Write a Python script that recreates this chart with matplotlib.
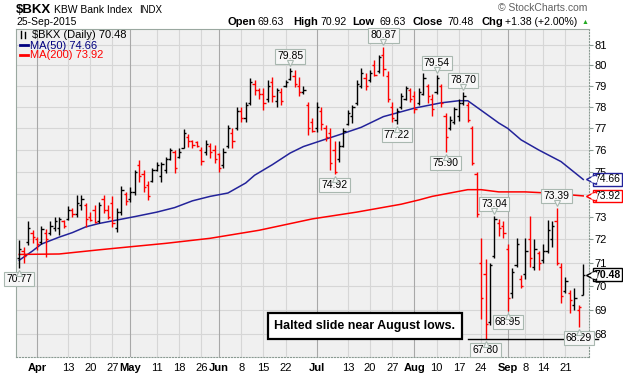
import numpy as np
import matplotlib
matplotlib.use("Agg")
import matplotlib.pyplot as plt
from matplotlib.lines import Line2D
from matplotlib.transforms import offset_copy

plt.rcParams['font.family'] = ['Liberation Sans', 'DejaVu Sans']

# $BKX daily bars, 26-Mar-2015 .. 25-Sep-2015
opens = [71.2, 71.5, 71.9, 72.3, 72.0, 71.9, 72.3, 72.3, 72.5, 72.5,
         72.8, 72.9, 73.3, 73.1, 73.5, 73.5, 73.0, 73.3, 72.8, 73.8,
         73.3, 73.6, 72.5, 73.2, 74.0, 73.8, 74.1, 75.3, 74.9, 74.4,
         74.6, 75.1, 74.8, 75.1, 75.6, 75.9, 75.7, 76.1, 76.6, 76.4,
         76.35, 76.0, 75.9, 76.2, 76.0, 75.8, 75.3, 76.2, 76.8, 77.0,
         77.8, 77.5, 78.2, 79.1, 78.8, 78.6, 78.4, 79.2, 78.3, 78.7,
         79.0, 79.35, 79.5, 79.0, 78.7, 78.1, 77.3, 77.0, 77.8, 77.0,
         76.8, 76.0, 75.6, 76.2, 77.2, 77.6, 78.2, 79.0, 79.4, 79.3,
         80.0, 79.7, 80.5, 79.5, 78.0, 77.4, 78.0, 78.4, 78.8, 78.5,
         78.2, 78.6, 79.0, 78.4, 78.7, 79.0, 77.6, 77.0, 77.3, 77.6,
         78.2, 78.1, 77.0, 74.9, 71.0, 70.5, 68.5, 71.3, 72.7, 72.6,
         71.6, 69.7, 70.9, 70.3, 70.5, 72.0, 70.8, 71.4, 71.1, 71.5,
         72.0, 72.8, 70.8, 69.8, 69.7, 69.2, 69.0, 69.63]
highs = [71.98, 71.66, 72.8, 72.41, 72.1, 72.6, 72.45, 72.8, 73.0, 73.0,
         72.85, 73.45, 73.4, 73.96, 73.96, 73.6, 73.2, 73.5, 73.65, 73.96,
         73.5, 73.9, 73.37, 74.36, 74.1, 74.3, 75.09, 75.55, 75.09, 74.6,
         75.16, 75.47, 75.45, 75.7, 76.08, 76.0, 76.08, 76.97, 76.75, 76.47,
         76.4, 76.16, 76.47, 76.31, 76.24, 75.86, 76.08, 77.17, 77.0, 78.0,
         78.0, 78.25, 79.4, 79.3, 78.9, 78.9, 79.3, 79.45, 78.9, 78.9,
         79.3, 79.85, 79.77, 79.45, 79.0, 78.25, 77.5, 78.25, 78.0, 77.17,
         77.0, 76.4, 76.4, 77.0, 77.87, 78.1, 79.3, 79.85, 79.6, 79.77,
         80.26, 80.5, 80.87, 79.7, 78.25, 77.95, 78.65, 79.0, 78.9, 78.74,
         78.9, 79.6, 79.1, 78.6, 79.54, 79.1, 77.7, 77.6, 78.0, 78.4,
         78.7, 78.25, 77.1, 75.0, 72.05, 71.16, 70.97, 73.04, 72.9, 72.8,
         71.8, 70.75, 72.05, 70.45, 72.05, 73.04, 72.0, 71.5, 71.8, 72.85,
         72.8, 73.39, 71.0, 70.4, 69.83, 69.9, 69.2, 70.92]
lows = [70.77, 70.98, 71.77, 71.83, 71.54, 71.8, 71.25, 72.2, 72.35, 72.2,
        72.5, 72.85, 73.0, 73.0, 73.3, 72.55, 72.8, 72.7, 72.7, 73.15,
        72.9, 72.55, 72.32, 73.07, 73.5, 73.65, 73.96, 74.56, 74.1, 73.74,
        74.56, 75.04, 74.56, 74.96, 75.55, 74.95, 75.63, 76.08, 76.16, 76.08,
        76.16, 75.32, 75.78, 75.63, 75.4, 75.0, 75.16, 76.08, 76.08, 76.93,
        77.32, 77.32, 78.1, 78.55, 78.4, 77.87, 78.25, 78.25, 78.0, 78.1,
        78.95, 79.3, 78.95, 78.5, 78.6, 76.7, 76.85, 76.85, 76.93, 76.4,
        75.1, 74.92, 75.47, 76.16, 77.17, 77.26, 78.1, 78.9, 78.8, 79.2,
        79.5, 79.6, 79.5, 78.25, 77.3, 77.22, 77.9, 78.34, 78.25, 77.7,
        78.1, 78.55, 78.2, 77.6, 78.6, 78.0, 75.9, 76.93, 77.2, 77.35,
        78.1, 77.3, 75.3, 73.0, 68.6, 67.8, 68.37, 71.2, 72.15, 72.05,
        68.95, 69.5, 70.8, 69.9, 70.3, 70.8, 70.68, 70.7, 71.0, 71.4,
        71.66, 70.9, 69.3, 69.7, 68.85, 69.0, 68.29, 69.63]
closes = [71.6, 71.3, 72.5, 72.1, 71.8, 72.45, 72.0, 72.6, 72.8, 72.9,
          72.6, 73.3, 73.1, 73.6, 73.8, 72.9, 72.85, 72.75, 73.5, 73.3,
          73.0, 72.7, 73.2, 74.2, 73.7, 74.1, 75.0, 74.8, 74.3, 73.9,
          75.1, 75.3, 75.35, 75.6, 76.0, 75.2, 75.9, 76.8, 76.4, 76.25,
          76.2, 75.5, 76.3, 75.9, 75.6, 75.2, 75.9, 77.0, 76.4, 77.8,
          77.5, 78.1, 79.2, 78.8, 78.6, 78.2, 79.0, 78.5, 78.8, 78.3,
          79.2, 79.7, 79.1, 78.7, 78.8, 77.0, 76.9, 78.0, 77.2, 76.6,
          75.4, 75.0, 76.2, 76.9, 77.7, 78.0, 79.1, 79.6, 79.0, 79.6,
          79.55, 80.4, 79.8, 78.4, 77.5, 77.8, 78.5, 78.9, 78.4, 77.9,
          78.7, 79.4, 78.5, 77.9, 79.4, 78.2, 76.6, 77.4, 77.9, 78.2,
          78.5, 77.4, 75.4, 73.1, 69.5, 68.4, 70.9, 72.9, 72.5, 72.3,
          69.5, 70.6, 71.8, 70.0, 71.5, 71.2, 71.6, 71.0, 71.5, 72.4,
          72.6, 71.0, 69.6, 70.2, 69.4, 69.5, 69.1, 70.48]

# moving averages read at sample bars
ma50_at = [0, 3, 5, 9, 12, 15, 18, 22, 26, 31, 35, 39, 43, 47, 51, 53, 57, 61,
           64, 69, 72, 77, 82, 89, 95, 99, 101, 103, 106, 108, 110, 113, 117,
           122, 127]
ma50 = [71.1, 71.5, 71.8, 72.1, 72.3, 72.55, 72.7, 72.85, 73.0, 73.2, 73.4,
        73.7, 73.9, 74.05, 74.5, 74.85, 75.33, 75.86, 76.16, 76.5, 76.7,
        77.05, 77.55, 77.95, 78.2, 78.3, 78.3, 78.0, 77.55, 77.25, 77.0,
        76.47, 76.0, 75.47, 74.66]
ma200_at = [0, 9, 18, 26, 33, 43, 54, 66, 76, 86, 90, 93, 101, 104, 108, 114,
            119, 127]
ma200 = [71.35, 71.37, 71.55, 71.7, 71.83, 72.05, 72.4, 72.9, 73.2, 73.55,
         73.74, 73.9, 74.2, 74.2, 74.1, 74.1, 74.05, 73.92]

xlabels_at = [4, 11, 16, 21, 25, 31, 36, 41, 45, 50, 55, 60, 67, 74, 79, 84,
              89, 94, 99, 104, 110, 114, 118, 123]
xlabels = ['Apr', '13', '20', '27', 'May', '11', '18', '26', 'Jun', '8', '15',
           '22', 'Jul', '13', '20', '27', 'Aug', '10', '17', '24', 'Sep', '8',
           '14', '21']
months = ['Apr', 'May', 'Jun', 'Jul', 'Aug', 'Sep']
hi_marks = [61, 82, 94, 100, 107, 121]
lo_marks = [0, 71, 85, 96, 105, 110, 126]

W, H = 623, 373
fig = plt.figure(figsize=(W / 100, H / 100), dpi=100)
ax = fig.add_axes([16 / W, 1 - 357 / H, 573 / W, 328 / H])
ax.set_facecolor('#f0f0f0')
px = lambda x: x / W
py = lambda y: 1 - y / H

n = len(closes)
idx = np.arange(n)
prev = np.r_[opens[0], closes[:-1]]
cols = np.where(np.array(closes) >= prev, 'black', 'red')

ax.vlines(idx, lows, highs, colors=cols, lw=1, zorder=3)
ax.hlines(opens, idx - 0.5, idx, colors=cols, lw=1, zorder=3)
ax.hlines(closes, idx, idx + 0.5, colors=cols, lw=1, zorder=3)

ax.plot(ma50_at, ma50, color='#23239a', lw=1.1, zorder=2)
ax.plot(ma200_at, ma200, color='#ff0000', lw=1.1, zorder=2)

ax.set_yscale('log')
ax.set_ylim(67.06, 81.77)
ax.set_xlim(-0.72, 128.3)
yt = list(range(68, 82))
ax.set_yticks(yt)
# the 74 label sits under the MA(200) tag on the original
ax.set_yticklabels(['' if v == 74 else str(v) for v in yt])
ax.yaxis.set_minor_locator(plt.NullLocator())
ax.yaxis.tick_right()
ax.tick_params(axis='y', length=3, width=0.8, color='#8a9a92', labelsize=8, pad=1)
ax.set_xticks(xlabels_at)
ax.set_xticklabels(xlabels)
for t in ax.get_xticklabels():
    if t.get_text() in months:
        t.set_fontweight('bold')
ax.tick_params(axis='x', length=0, labelsize=8, pad=4)
ax.set_axisbelow(True)
ax.grid(axis='y', color='#d6d6d6', lw=0.8)
for i, lab in zip(xlabels_at, xlabels):
    ax.axvline(i, color='#a8a8a8' if lab in months else '#d6d6d6', lw=0.8, zorder=1)
for s in ['left', 'top']:
    ax.spines[s].set_color('#9aa8a0')
    ax.spines[s].set_linewidth(0.8)
for s in ['right', 'bottom']:
    ax.spines[s].set_color('#8a9a92')
    ax.spines[s].set_linestyle(':')
    ax.spines[s].set_linewidth(0.8)

# high / low tags
def tag(i, val, up):
    off = 8.5 if up else -8
    ax.annotate(f'{val:.2f}', xy=(i, val), xytext=(0, off), textcoords='offset points',
                ha='center', va='center', fontsize=7.5, annotation_clip=False,
                bbox=dict(boxstyle='square,pad=0.2', fc='#f7f7f7', ec='#a9b8b0', lw=0.8),
                zorder=6)
    tr = offset_copy(ax.transData, fig, x=0, y=5 if up else -5, units='dots')
    ax.plot(i, val, marker='v' if up else '^', ms=4, mfc='#f7f7f7', mec='#a9b8b0',
            mew=0.8, transform=tr, zorder=7, clip_on=False)

for i in hi_marks:
    tag(i, highs[i], True)
for i in lo_marks:
    tag(i, lows[i], False)

# right side value tags
ytr = ax.get_yaxis_transform()
for val, col, wt in [(ma50[-1], '#23239a', 'normal'), (ma200[-1], 'red', 'normal'),
                     (closes[-1], 'black', 'bold')]:
    ax.annotate(f'{val:.2f}', xy=(1, val), xycoords=ytr,
                xytext=(4, 0), textcoords='offset points', ha='left', va='center',
                fontsize=7.5, fontweight=wt, annotation_clip=False, zorder=10,
                bbox=dict(boxstyle='square,pad=0.12', fc='white', ec=col, lw=1))
    tr = offset_copy(ytr, fig, x=1.5, y=0, units='dots')
    ax.plot(1, val, marker='<', ms=6.5, mfc='white', mec=col, mew=1,
            transform=tr, zorder=11, clip_on=False)
    tr2 = offset_copy(ytr, fig, x=4.5, y=0, units='dots')
    ax.plot(1, val, marker='s', ms=4.6, mfc='white', mec='none',
            transform=tr2, zorder=12, clip_on=False)

# comment box and line at the August low
fig.text(px(365), py(326), 'Halted slide near August lows.', ha='center', va='center',
         fontsize=9, fontweight='bold',
         bbox=dict(boxstyle='square,pad=0.55', fc='white', ec='black', lw=1.6), zorder=8)
ax.plot([101.1, 130.4], [lows[105], lows[105]], color='black', lw=1, clip_on=False, zorder=5)

# header
fig.text(px(16), py(13), '$BKX', fontsize=9.5, fontweight='bold', parse_math=False)
fig.text(px(54), py(13), 'KBW Bank Index', fontsize=7.5)
fig.text(px(139), py(13), 'INDX', fontsize=7)
fig.text(px(16), py(25), '25-Sep-2015', fontsize=7.5)
fig.text(px(587), py(11), '\u00a9 StockCharts.com', fontsize=7.5, color='#606060', ha='right')
chg = closes[-1] - closes[-2]
parts = [('Open', 228, 'bold'), (f'{opens[-1]:.2f}', 258, 'normal'),
         ('High', 293, 'bold'), (f'{highs[-1]:.2f}', 320, 'normal'),
         ('Low', 352, 'bold'), (f'{lows[-1]:.2f}', 380, 'normal'),
         ('Close', 413, 'bold'), (f'{closes[-1]:.2f}', 447, 'normal'),
         ('Chg', 481, 'bold'), (f'+{chg:.2f} (+{chg / closes[-2] * 100:.2f}%)', 505, 'normal')]
for s, x, w in parts:
    fig.text(px(x), py(25), s, fontsize=8 if w == 'bold' else 7.6, fontweight=w)
fig.text(px(585.5), py(24), '\u25b2', fontsize=5, color='#22aa22', ha='center')

# legend inside plot
fig.add_artist(Line2D([px(21), px(21)], [py(31), py(38)], color='black', lw=1))
fig.add_artist(Line2D([px(25), px(25)], [py(32), py(38)], color='black', lw=1))
fig.text(px(32), py(38.5), f'$BKX (Daily) {closes[-1]:.2f}', fontsize=8, parse_math=False)
fig.add_artist(Line2D([px(20), px(28)], [py(45), py(45)], color='#000080', lw=2))
fig.text(px(30), py(49), f'MA(50) {ma50[-1]:.2f}', fontsize=8, color='#000080')
fig.add_artist(Line2D([px(20), px(28)], [py(54.5), py(54.5)], color='red', lw=2))
fig.text(px(30), py(58.5), f'MA(200) {ma200[-1]:.2f}', fontsize=8, color='red')

fig.savefig('out.png', dpi=100, facecolor='white')
